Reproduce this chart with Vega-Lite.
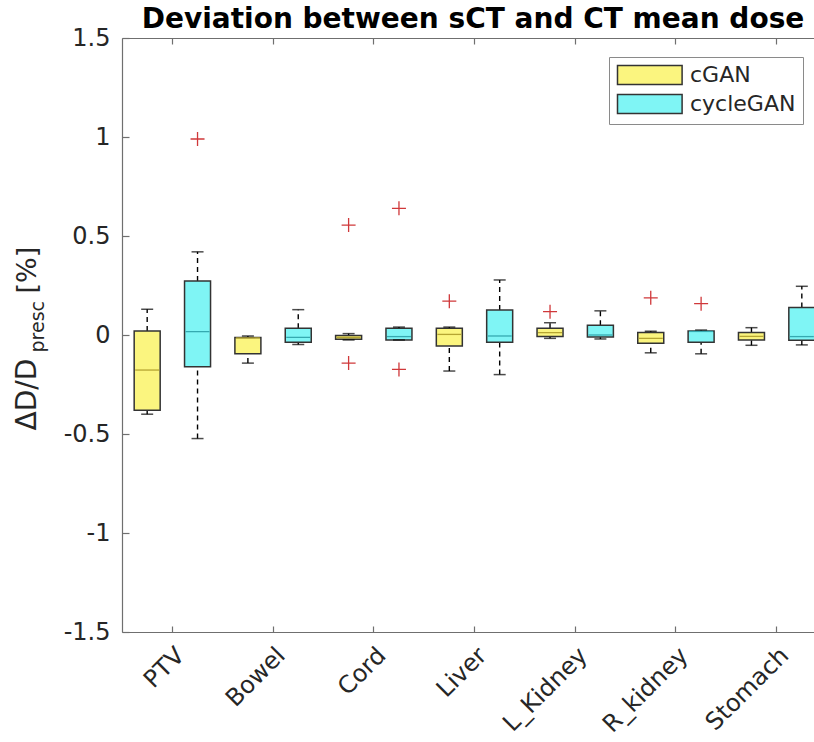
{
  "$schema": "https://vega.github.io/schema/vega-lite/v6.json",
  "autosize": "none",
  "width": 692,
  "height": 594,
  "padding": {"left": 122, "top": 38, "right": 0, "bottom": 110},
  "background": "white",
  "title": {
    "text": "Deviation between sCT and CT mean dose",
    "font": "DejaVu Sans",
    "fontSize": 28,
    "fontWeight": "bold",
    "color": "black",
    "anchor": "middle",
    "offset": -8,
    "dx": 5
  },
  "config": {
    "view": {"stroke": null},
    "axis": {"grid": false, "domainColor": "#6f6f6f", "tickColor": "#6f6f6f", "domainWidth": 1.2, "tickWidth": 1.2},
    "legend": {
      "orient": "none",
      "legendX": 487,
      "legendY": 19,
      "strokeColor": "#8a8a8a",
      "fillColor": "white",
      "padding": 7,
      "rowPadding": 3,
      "labelFont": "DejaVu Sans",
      "labelFontSize": 22,
      "labelColor": "#262626",
      "labelOffset": 52,
      "symbolType": "M-1,-1H5.8V1H-1Z",
      "symbolSize": 361,
      "symbolStrokeColor": "#333333",
      "symbolStrokeWidth": 1.5,
      "symbolOpacity": 1
    }
  },
  "datasets": {
    "boxes": [
      {"organ": "PTV", "method": "cGAN", "lo": -0.40, "q1": -0.38, "med": -0.177, "q3": 0.02, "hi": 0.13},
      {"organ": "PTV", "method": "cycleGAN", "lo": -0.523, "q1": -0.16, "med": 0.017, "q3": 0.273, "hi": 0.42},
      {"organ": "Bowel", "method": "cGAN", "lo": -0.142, "q1": -0.095, "med": -0.015, "q3": -0.012, "hi": -0.005},
      {"organ": "Bowel", "method": "cycleGAN", "lo": -0.048, "q1": -0.037, "med": -0.012, "q3": 0.034, "hi": 0.128},
      {"organ": "Cord", "method": "cGAN", "lo": -0.025, "q1": -0.022, "med": -0.012, "q3": -0.003, "hi": 0.007},
      {"organ": "Cord", "method": "cycleGAN", "lo": -0.025, "q1": -0.025, "med": -0.008, "q3": 0.034, "hi": 0.04},
      {"organ": "Liver", "method": "cGAN", "lo": -0.182, "q1": -0.055, "med": 0.003, "q3": 0.034, "hi": 0.04},
      {"organ": "Liver", "method": "cycleGAN", "lo": -0.2, "q1": -0.037, "med": -0.005, "q3": 0.126, "hi": 0.278},
      {"organ": "L_Kidney", "method": "cGAN", "lo": -0.017, "q1": -0.008, "med": 0.012, "q3": 0.034, "hi": 0.062},
      {"organ": "L_Kidney", "method": "cycleGAN", "lo": -0.02, "q1": -0.01, "med": 0.0, "q3": 0.049, "hi": 0.122},
      {"organ": "R_kidney", "method": "cGAN", "lo": -0.09, "q1": -0.042, "med": -0.017, "q3": 0.012, "hi": 0.019},
      {"organ": "R_kidney", "method": "cycleGAN", "lo": -0.095, "q1": -0.037, "med": 0.018, "q3": 0.02, "hi": 0.025},
      {"organ": "Stomach", "method": "cGAN", "lo": -0.052, "q1": -0.025, "med": -0.007, "q3": 0.012, "hi": 0.037},
      {"organ": "Stomach", "method": "cycleGAN", "lo": -0.05, "q1": -0.027, "med": -0.008, "q3": 0.139, "hi": 0.246}
    ],
    "outliers": [
      {"organ": "PTV", "method": "cycleGAN", "value": 0.99},
      {"organ": "Cord", "method": "cGAN", "value": 0.555},
      {"organ": "Cord", "method": "cGAN", "value": -0.142},
      {"organ": "Cord", "method": "cycleGAN", "value": 0.64},
      {"organ": "Cord", "method": "cycleGAN", "value": -0.174},
      {"organ": "Liver", "method": "cGAN", "value": 0.171},
      {"organ": "L_Kidney", "method": "cGAN", "value": 0.118},
      {"organ": "R_kidney", "method": "cGAN", "value": 0.188},
      {"organ": "R_kidney", "method": "cycleGAN", "value": 0.158}
    ]
  },
  "encoding": {
    "x": {"field": "organ", "type": "nominal", "sort": ["PTV", "Bowel", "Cord", "Liver", "L_Kidney", "R_kidney", "Stomach"],
          "scale": {"type": "band", "paddingInner": 0, "paddingOuter": 0, "range": [0, 705]}, "axis": null},
    "xOffset": {"field": "method", "type": "nominal", "sort": ["cGAN", "cycleGAN"], "scale": {"paddingInner": 0, "paddingOuter": 0}}
  },
  "layer": [
    {
      "data": {"name": "boxes"},
      "mark": {"type": "rule", "color": "black", "strokeWidth": 1.4, "strokeDash": [5, 4]},
      "encoding": {
        "y": {"field": "q3", "type": "quantitative", "scale": {"domain": [-1.5, 1.5], "nice": false, "zero": false},
              "axis": {"orient": "left", "values": [-1.5, -1, -0.5, 0, 0.5, 1, 1.5], "labelExpr": "toString(datum.value)",
                       "tickSize": -7, "labelPadding": 19, "labelFont": "DejaVu Sans", "labelFontSize": 24, "labelColor": "#262626",
                       "title": "ΔD/D", "titleFont": "DejaVu Sans", "titleFontSize": 28, "titleFontWeight": "normal", "titleColor": "#262626",
                       "titleAngle": 270, "titleAlign": "left", "titleBaseline": "alphabetic", "titleX": -87, "titleY": 392}},
        "y2": {"field": "hi"}
      }
    },
    {
      "data": {"name": "boxes"},
      "mark": {"type": "rule", "color": "black", "strokeWidth": 1.4, "strokeDash": [5, 4]},
      "encoding": {
        "y": {"field": "lo", "type": "quantitative",
              "axis": {"orient": "left", "domain": false, "ticks": false, "labels": false, "grid": false,
                       "title": "presc", "titleFont": "DejaVu Sans", "titleFontSize": 19, "titleFontWeight": "normal", "titleColor": "#262626",
                       "titleAngle": 270, "titleAlign": "left", "titleBaseline": "alphabetic", "titleX": -79, "titleY": 314}},
        "y2": {"field": "q1"}
      }
    },
    {
      "data": {"name": "boxes"},
      "mark": {"type": "bar", "size": 26, "stroke": "#333333", "strokeWidth": 1.5, "opacity": 1},
      "encoding": {
        "x": {"field": "organ", "type": "nominal", "sort": ["PTV", "Bowel", "Cord", "Liver", "L_Kidney", "R_kidney", "Stomach"],
              "scale": {"type": "band", "paddingInner": 0, "paddingOuter": 0, "range": [0, 705]},
              "axis": {"orient": "bottom", "title": null, "tickSize": -6, "labelPadding": 17, "labelAngle": -45,
                       "labelFont": "DejaVu Sans", "labelFontSize": 24, "labelColor": "#262626"}},
        "y": {"field": "q1", "type": "quantitative",
              "axis": {"orient": "left", "domain": false, "ticks": false, "labels": false, "grid": false,
                       "title": "[%]", "titleFont": "DejaVu Sans", "titleFontSize": 27, "titleFontWeight": "normal", "titleColor": "#262626",
                       "titleAngle": 270, "titleAlign": "left", "titleBaseline": "alphabetic", "titleX": -87, "titleY": 255}},
        "y2": {"field": "q3"},
        "fill": {"field": "method", "type": "nominal", "sort": ["cGAN", "cycleGAN"],
                 "scale": {"domain": ["cGAN", "cycleGAN"], "range": ["#fbf57f", "#7ff5f5"]},
                 "legend": {"title": null}}
      }
    },
    {
      "data": {"name": "boxes"},
      "mark": {"type": "tick", "color": "black", "size": 12, "thickness": 1.5},
      "encoding": {"y": {"field": "hi", "type": "quantitative", "axis": null}}
    },
    {
      "data": {"name": "boxes"},
      "mark": {"type": "tick", "color": "black", "size": 12, "thickness": 1.5},
      "encoding": {"y": {"field": "lo", "type": "quantitative", "axis": null}}
    },
    {
      "data": {"name": "boxes"},
      "mark": {"type": "tick", "size": 24, "thickness": 1.3, "opacity": 1},
      "encoding": {
        "y": {"field": "med", "type": "quantitative", "axis": null},
        "color": {"field": "method", "type": "nominal", "scale": {"domain": ["cGAN", "cycleGAN"], "range": ["#b5a532", "#35a9b0"]}, "legend": null}
      }
    },
    {
      "data": {"name": "outliers"},
      "mark": {"type": "point", "shape": "M-1,0H1M0,-1V1", "size": 196, "filled": false, "stroke": "#d0383a", "strokeWidth": 1.3, "opacity": 1},
      "encoding": {
        "x": {"field": "organ", "type": "nominal", "sort": ["PTV", "Bowel", "Cord", "Liver", "L_Kidney", "R_kidney", "Stomach"],
              "scale": {"type": "band", "paddingInner": 0, "paddingOuter": 0, "range": [0, 705]},
              "axis": {"orient": "top", "title": null, "labels": false, "tickSize": -6}},
        "y": {"field": "value", "type": "quantitative", "axis": null}
      }
    }
  ],
  "resolve": {"axis": {"x": "independent", "y": "independent"}}
}
